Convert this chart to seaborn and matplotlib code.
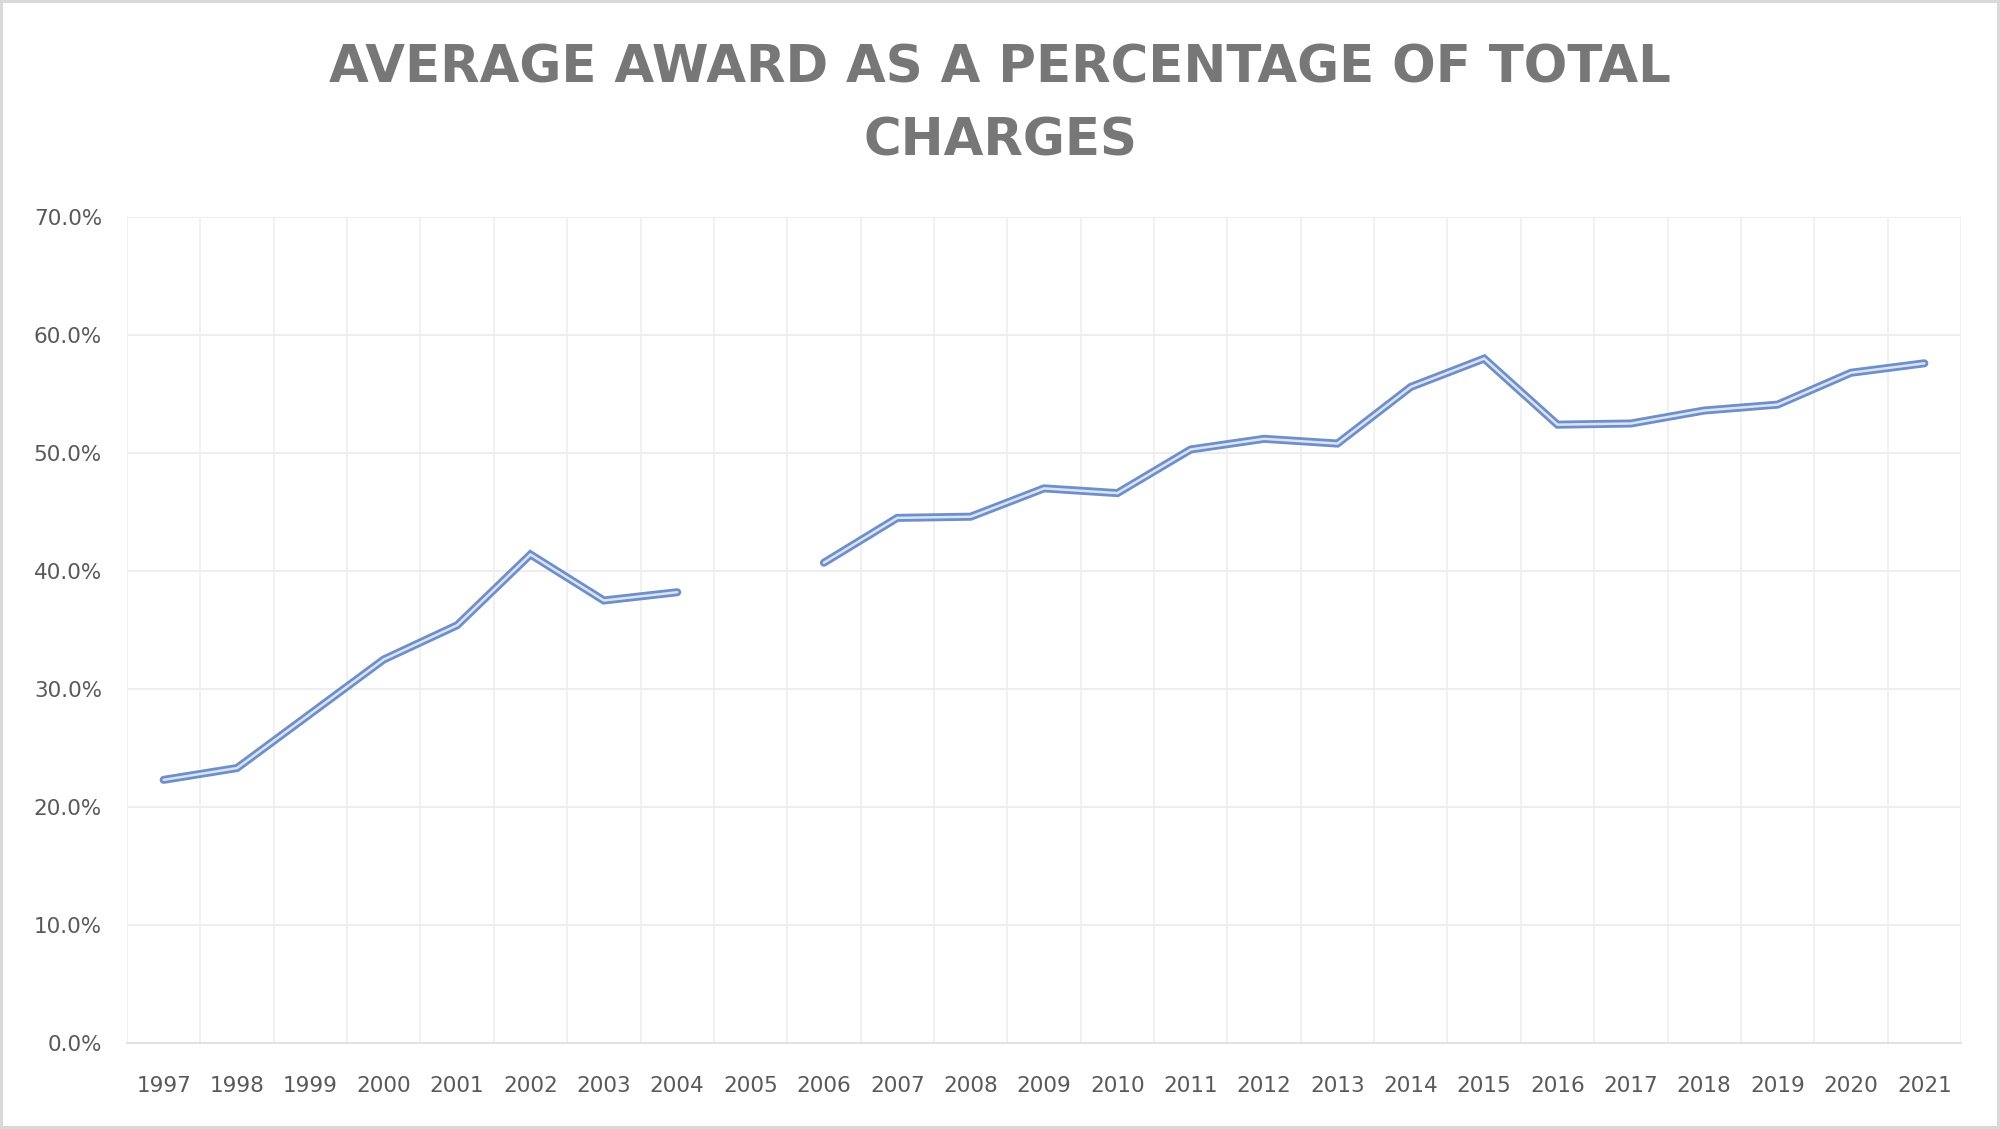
import numpy as np
import pandas as pd
import matplotlib.pyplot as plt
import seaborn as sns
from matplotlib.ticker import PercentFormatter, MultipleLocator

# Average award as a percentage of total charges, by year (2005 missing)
years = list(range(1997, 2022))
award_pct = [22.3, 23.3, 27.9, 32.5, 35.4, 41.4, 37.5, 38.2, np.nan, 40.7,
             44.5, 44.6, 47.0, 46.6, 50.3, 51.2, 50.8, 55.6, 58.0, 52.4,
             52.5, 53.6, 54.1, 56.8, 57.6]
title_text = "AVERAGE AWARD AS A PERCENTAGE OF TOTAL\nCHARGES"

df = pd.DataFrame({"year": years, "pct": award_pct})
# split into separate segments at the gap so the line breaks there
df["segment"] = df["pct"].isna().cumsum()
df = df.dropna()

sns.set_theme(style="white")
plt.rcParams["font.family"] = ["DejaVu Sans"]

fig = plt.figure(figsize=(20, 11.29), dpi=100, edgecolor="#d9d9d9", linewidth=4)
ax = fig.add_axes([0.0635, 0.0762, 0.917, 0.7316])

# double line: outer blue stroke with a light core
sns.lineplot(data=df, x="year", y="pct", units="segment", estimator=None,
             color="#6f8fca", linewidth=5.8, ax=ax, solid_joinstyle="miter")
sns.lineplot(data=df, x="year", y="pct", units="segment", estimator=None,
             color="#d9e4f6", linewidth=1.8, ax=ax, solid_joinstyle="miter")

ax.set_xlim(1996.5, 2021.5)
ax.set_ylim(0, 70)
ax.set_xticks(years)
ax.set_xticklabels([str(y) for y in years])
ax.xaxis.set_minor_locator(MultipleLocator(1, offset=0.5))
ax.yaxis.set_major_locator(MultipleLocator(10))
ax.yaxis.set_major_formatter(PercentFormatter(xmax=100, decimals=1))

ax.grid(which="major", axis="y", color="#ededed", linewidth=1.3)
ax.grid(which="minor", axis="x", color="#f0f0f0", linewidth=1.3)
ax.grid(which="major", axis="x", visible=False)
for side in ["top", "right", "left"]:
    ax.spines[side].set_visible(False)
ax.spines["bottom"].set_color("#e0e0e0")
ax.spines["bottom"].set_linewidth(1.3)

ax.tick_params(axis="both", which="both", length=0, labelsize=15.5,
               labelcolor="#595959")
ax.tick_params(axis="y", pad=18)
ax.tick_params(axis="x", pad=24)
ax.set_xlabel("")
ax.set_ylabel("")

fig.text(0.5, 0.907, title_text, ha="center", va="center",
         fontsize=37, fontweight="bold", color="#777777",
         family=["DejaVu Sans"], linespacing=1.58)

fig.savefig("out.png", dpi=100)
